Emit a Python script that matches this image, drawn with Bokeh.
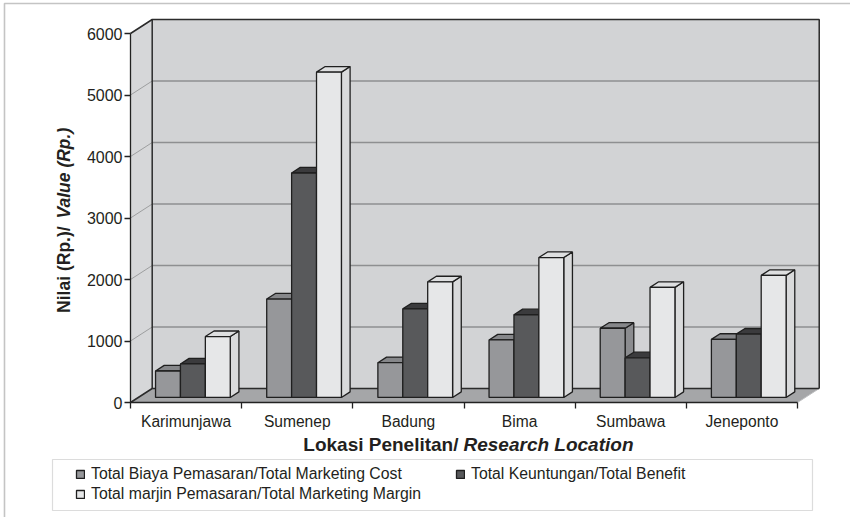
import math
from bokeh.plotting import figure
from bokeh.models import (Range1d, FixedTicker, CustomJSTickFormatter, Label, Legend,
                          LegendItem, BoxAnnotation, ColumnDataSource)
from bokeh.embed import file_html
from bokeh.resources import INLINE

# ---- data -------------------------------------------------------------
locations = ["Karimunjawa", "Sumenep", "Badung", "Bima", "Sumbawa", "Jeneponto"]
marketing_cost = [430, 1600, 565, 935, 1125, 945]
total_benefit = [545, 3650, 1440, 1345, 645, 1030]
marketing_margin = [990, 5290, 1880, 2275, 1790, 1985]
y_ticks = [0, 1000, 2000, 3000, 4000, 5000, 6000]
series_labels = [
    "Total Biaya Pemasaran/Total Marketing Cost",
    "Total Keuntungan/Total Benefit",
    "Total marjin Pemasaran/Total Marketing Margin",
]
series = [marketing_cost, total_benefit, marketing_margin]

# face colours per series: front, top, side
front_colors = ["#96979a", "#58595b", "#e6e7e8"]
top_colors = ["#86878a", "#3b3b3d", "#dedfe0"]
side_colors = ["#8b8c8f", "#47484a", "#d9dadb"]

# ---- geometry ---------------------------------------------------------
W, H = 850, 517
AX_X, AX_Y = 130, 402    # pixel position of the value/category axes origin
CAT_PX = 111.17          # pixels per category slot
VAL_PX = 0.0615          # pixels per value unit
n = len(locations)
DX = 21.7 / CAT_PX       # oblique depth offset (x, category units)
DY = 14.0 / VAL_PX       # oblique depth offset (y, value units)
Y_MAX = y_ticks[-1]

G0, BW = 0.155, 0.224    # group start and bar width inside a slot
F0, FD = 0.36, 0.40      # bar front depth and bar thickness (fraction of depth)


def sy(cy):
    """canvas row (from top) -> screen units (from bottom)"""
    return H - cy


p = figure(width=W, height=H, output_backend="svg", toolbar_location=None,
           x_range=Range1d(-AX_X / CAT_PX, (W - AX_X) / CAT_PX),
           y_range=Range1d((AX_Y - H) / VAL_PX, AX_Y / VAL_PX),
           min_border=0)
p.outline_line_color = None
p.xgrid.visible = False
p.ygrid.visible = False
p.background_fill_color = "white"
p.border_fill_color = "white"

# ---- walls and floor --------------------------------------------------
p.patch([0, 0, DX, DX], [0, Y_MAX, Y_MAX + DY, DY], fill_color="#d6d7d9", line_color=None)
p.patch([0, n, n + DX, DX], [0, 0, DY, DY], fill_color="#a5a6a8", line_color="#bdbec0",
        line_width=1)
p.quad(left=DX, right=n + DX, bottom=DY, top=Y_MAX + DY, fill_color="#d2d3d5",
       line_color=None)

grid_vals = y_ticks[1:-1]
p.segment(x0=[DX] * len(grid_vals), y0=[v + DY for v in grid_vals],
          x1=[n + DX] * len(grid_vals), y1=[v + DY for v in grid_vals],
          line_color="#8e8f91", line_width=1.3)
p.segment(x0=[0] * len(grid_vals), y0=grid_vals,
          x1=[DX] * len(grid_vals), y1=[v + DY for v in grid_vals],
          line_color="#8e8f91", line_width=0.8)

# wall edges
edge = dict(line_color="#2b2b2b", line_width=1.5)
p.line([0, DX, n + DX, n + DX], [Y_MAX, Y_MAX + DY, Y_MAX + DY, DY], **edge)
p.line([DX, DX], [DY, Y_MAX + DY], **edge)
p.line([0, DX, n + DX], [0, DY, DY], **edge)

# ---- 3-D bars ---------------------------------------------------------
sides = dict(xs=[], ys=[], color=[])
tops = dict(xs=[], ys=[], color=[])
fronts = dict(left=[], right=[], bottom=[], top=[], color=[])
ddx, ddy = FD * DX, FD * DY
for s, vals in enumerate(series):
    for i in range(n):
        v = vals[i]
        x0 = i + G0 + s * BW + F0 * DX
        x1 = x0 + BW
        y0 = F0 * DY
        y1 = y0 + v
        sides["xs"].append([x1, x1 + ddx, x1 + ddx, x1])
        sides["ys"].append([y0, y0 + ddy, y1 + ddy, y1])
        sides["color"].append(side_colors[s])
        tops["xs"].append([x0, x1, x1 + ddx, x0 + ddx])
        tops["ys"].append([y1, y1, y1 + ddy, y1 + ddy])
        tops["color"].append(top_colors[s])
        fronts["left"].append(x0)
        fronts["right"].append(x1)
        fronts["bottom"].append(y0)
        fronts["top"].append(y1)
        fronts["color"].append(front_colors[s])

bar_line = dict(line_color="#1f1f1f", line_width=1.3)
p.patches("xs", "ys", fill_color="color", source=ColumnDataSource(sides), **bar_line)
p.patches("xs", "ys", fill_color="color", source=ColumnDataSource(tops), **bar_line)
front_r = p.quad(left="left", right="right", bottom="bottom", top="top",
                 fill_color="color", source=ColumnDataSource(fronts), **bar_line)

# ---- axes (pinned to the data origin) ---------------------------------
tick_font = "Liberation Sans"
ya = p.yaxis[0]
ya.fixed_location = 0
ya.ticker = FixedTicker(ticks=y_ticks)
ya.bounds = (0, Y_MAX)
ya.major_tick_out = 6
ya.major_tick_in = 0
ya.minor_tick_out = 0
ya.minor_tick_in = 0
ya.axis_line_color = "#222222"
ya.axis_line_width = 1.3
ya.major_tick_line_color = "#222222"
ya.major_tick_line_width = 1.3
ya.major_label_standoff = 2
ya.major_label_text_font = tick_font
ya.major_label_text_font_size = "16px"
ya.major_label_text_color = "#231f20"

xa = p.xaxis[0]
xa.fixed_location = 0
xa.ticker = FixedTicker(ticks=[i + 0.5 for i in range(n)], minor_ticks=list(range(n + 1)))
xa.formatter = CustomJSTickFormatter(args=dict(names=locations),
                                     code="return names[Math.floor(tick)] || '';")
xa.bounds = (0, n)
xa.major_tick_out = 0
xa.major_tick_in = 0
xa.minor_tick_out = 6
xa.minor_tick_in = 0
xa.minor_tick_line_color = "#222222"
xa.minor_tick_line_width = 1.3
xa.axis_line_color = "#222222"
xa.axis_line_width = 1.3
xa.major_label_standoff = 4
xa.major_label_text_font = tick_font
xa.major_label_text_font_size = "15.6px"
xa.major_label_text_color = "#231f20"

# ---- axis titles (mixed bold / bold italic) ---------------------------
title_style = dict(x_units="screen", y_units="screen", text_font="Liberation Sans",
                   text_font_size="19px", text_color="#231f20")
p.add_layout(Label(x=458, y=sy(443.5), text="Lokasi Penelitan/", text_align="right",
                   text_baseline="alphabetic", text_font_style="bold", **title_style))
p.add_layout(Label(x=463, y=sy(443.5), text="Research Location", text_align="left",
                   text_baseline="alphabetic", text_font_style="bold italic", **title_style))

ytitle_style = dict(x_units="screen", y_units="screen", text_font="Liberation Sans",
                    text_font_size="17.5px", text_color="#231f20", angle=math.pi / 2,
                    text_baseline="middle")
p.add_layout(Label(x=63, y=sy(221), text="Nilai  (Rp.)/", text_align="right",
                   text_font_style="bold", **ytitle_style))
p.add_layout(Label(x=63, y=sy(218), text="Value (Rp.)", text_align="left",
                   text_font_style="bold italic", **ytitle_style))

# ---- outer frame lines and legend box ---------------------------------
p.add_layout(BoxAnnotation(left=4, right=2000, top=sy(3), bottom=-2000,
                           left_units="screen", right_units="screen",
                           top_units="screen", bottom_units="screen",
                           fill_alpha=0, line_color="#3c3c3c", line_width=1.6))
p.add_layout(BoxAnnotation(left=52, right=812, top=sy(459), bottom=sy(510),
                           left_units="screen", right_units="screen",
                           top_units="screen", bottom_units="screen",
                           fill_color="white", fill_alpha=1,
                           line_color="#8c8c8c", line_width=1.2))

legend = Legend(
    items=[LegendItem(label=series_labels[k], renderers=[front_r], index=k * n)
           for k in range(3)],
    location=(75, sy(502.5)), orientation="horizontal", ncols=2,
    glyph_width=10, glyph_height=10, label_standoff=6, label_width=362,
    label_height=15, spacing=2, padding=0, margin=0,
    label_text_font="Liberation Sans", label_text_font_size="15.8px",
    label_text_color="#231f20", label_text_line_height=1.0,
    border_line_color=None, background_fill_alpha=0,
)
p.add_layout(legend)

open("out.html", "w").write(file_html(p, INLINE))
